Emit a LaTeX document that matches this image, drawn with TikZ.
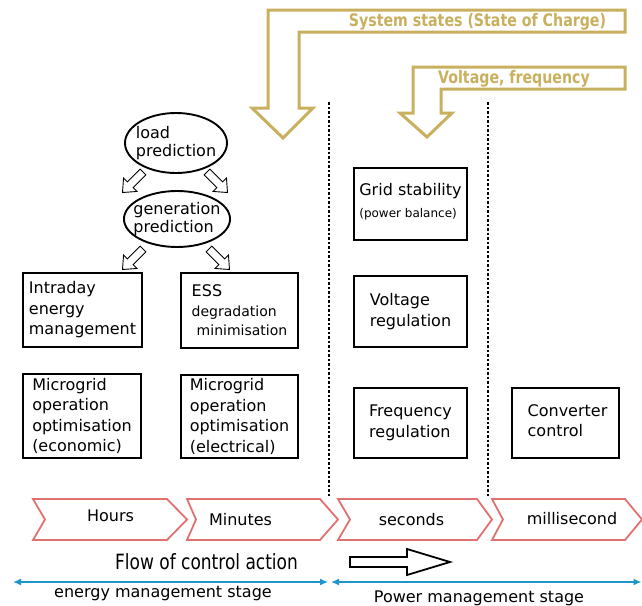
\documentclass[tikz,border=0pt]{standalone}
\usepackage{fontspec}
\setmainfont{DejaVu Sans}
\newfontfamily\narrowfont{DejaVu Sans}[FakeStretch=0.81]
\newfontfamily\goldfont{DejaVu Sans}[FakeStretch=0.82]
\usetikzlibrary{arrows.meta,shapes.geometric}
\definecolor{gold}{RGB}{200,176,94}
\definecolor{chev}{RGB}{225,112,112}
\definecolor{stageblue}{RGB}{30,150,205}
\begin{document}
\begin{tikzpicture}[x=1pt,y=-1pt,
  every node/.style={inner sep=0pt, outer sep=0pt},
  box/.style={draw, line width=2.3pt, align=left, font=\fontsize{16}{20.5}\selectfont},
  pred/.style={draw, ellipse, line width=1.9pt, align=left, font=\fontsize{16}{18.5}\selectfont},
  goldarrow/.style={draw=gold, line width=3pt, line join=miter},
  goldtext/.style={text=gold, font=\goldfont\bfseries\fontsize{17.3}{20}\selectfont, anchor=base},
  chevron/.style={draw=chev, line width=1.8pt, line join=miter},
  chevtext/.style={font=\fontsize{16}{19}\selectfont, anchor=base},
  hollow/.style={draw, line width=0.9pt, fill=white, line join=miter},
  sepline/.style={line width=2pt, dash pattern=on 2.5pt off 2pt},
  stage/.style={draw=stageblue, line width=1.4pt, {Latex[length=8pt,width=7pt]}-{Latex[length=8pt,width=7pt]}},
  stagetext/.style={font=\fontsize{16}{19}\selectfont, anchor=base},
]
\useasboundingbox (0,0) rectangle (642,605);

% gold feedback arrows
\draw[goldarrow] (268,10) -- (625,10) -- (625,32) -- (299,32) -- (299,108) -- (313,108)
  -- (283,138) -- (252,108) -- (268,108) -- cycle;
\node[goldtext] (soc) at (477.5,26.7) {System states (State of Charge)};
\draw[goldarrow] (413,67) -- (625,67) -- (625,89) -- (441,89) -- (441,113) -- (452,113)
  -- (427,137) -- (400,113) -- (413,113) -- cycle;
\node[goldtext] (vf) at (514,83.3) {Voltage, frequency};

% dotted separators
\coordinate (s1t) at (329,102); \coordinate (s1b) at (329,497);
\coordinate (s2t) at (488,102); \coordinate (s2b) at (488,497);
\draw[sepline] (s1t) -- (s1b);
\draw[sepline] (s2t) -- (s2b);

% predictions
\node[pred, inner xsep=-4.2pt, minimum width=102pt, minimum height=60pt] (load) at (176,143) {load\\prediction};
\node[pred, inner xsep=-6pt, minimum width=106pt, minimum height=56pt] (gen) at (177,219) {generation\\prediction};

% small hollow arrows
\foreach \px/\py/\a in {143/172/225, 207/172/-45, 143/249/225, 209/249/-45}{
  \begin{scope}[shift={(\px,\py)}, rotate=\a]
    \draw[hollow] (0,-4) -- (18,-4) -- (18,-9.5) -- (29,0) -- (18,9.5) -- (18,4) -- (0,4) -- cycle;
  \end{scope}
}

% boxes
\node[box, minimum width=119pt, minimum height=74pt] (intraday) at (82.5,310) {Intraday\\energy\\management};
\node[box, minimum width=117pt, minimum height=75pt, font=\fontsize{14}{19.5}\selectfont] (ess) at (239.5,310.5)
  {{\fontsize{16}{19.5}\selectfont ESS}\\degradation\\\hspace*{5pt}minimisation};
\node[box, minimum width=118pt, minimum height=84pt] (econ) at (82,416) {Microgrid\\operation\\optimisation\\(economic)};
\node[box, minimum width=117pt, minimum height=83pt] (elec) at (239.5,416.5) {Microgrid\\operation\\optimisation\\(electrical)};

\node[box, minimum width=113pt, minimum height=72pt, font=\fontsize{16}{22}\selectfont] (grid) at (410.5,204)
  {Grid stability\\{\fontsize{12}{14}\selectfont (power balance)}\rule[-8pt]{0pt}{8pt}};
\node[box, minimum width=113pt, minimum height=71pt] (volt) at (410.5,311.5) {Voltage\\regulation};
\node[box, minimum width=113pt, minimum height=70pt] (freq) at (410.5,423) {Frequency\\regulation};
\node[box, minimum width=107pt, minimum height=70pt] (conv) at (565.5,423) {\hspace*{4pt}Converter\\\hspace*{4pt}control\rule[-5pt]{0pt}{5pt}};

% time-scale chevrons
\draw[chevron] (33,499) -- (167,499) -- (187,519.5) -- (167,540) -- (33,540) -- (45,519.5) -- cycle;
\draw[chevron] (187,499) -- (320,499) -- (338,519.5) -- (320,540) -- (187,540) -- (196,519.5) -- cycle;
\draw[chevron] (338,499) -- (477,499) -- (492,519.5) -- (477,540) -- (338,540) -- (350,519.5) -- cycle;
\draw[chevron] (492,499) -- (625,499) -- (642,519.5) -- (625,540) -- (492,540) -- (503,519.5) -- cycle;
\node[chevtext] (hours) at (110.5,521) {Hours};
\node[chevtext] (minutes) at (240.5,525) {Minutes};
\node[chevtext] (seconds) at (411.5,525) {seconds};
\node[chevtext] (ms) at (572,524) {millisecond};

% flow of control action
\node[anchor=base, font=\narrowfont\fontsize{21}{24}\selectfont] (flow) at (206.5,569) {Flow of control action};
\draw[line width=1.8pt, line join=miter] (350,557) -- (407,557) -- (407,549) -- (450,562) -- (407,575) -- (407,567) -- (350,567) -- cycle;

% stages
\coordinate (e1) at (13,582); \coordinate (e2) at (328,582);
\coordinate (p1) at (331,582); \coordinate (p2) at (641.5,582);
\draw[stage] (e1) -- (e2);
\draw[stage] (p1) -- (p2);
\node[stagetext] (est) at (163,597) {energy management stage};
\node[stagetext] (pst) at (479,602) {Power management stage};
\end{tikzpicture}
\end{document}
